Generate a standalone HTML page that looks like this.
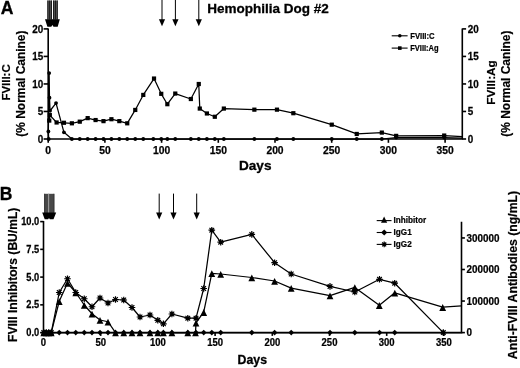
<!DOCTYPE html>
<html lang="en"><head><meta charset="utf-8"><title>Hemophilia Dog #2</title>
<style>html,body{margin:0;padding:0;background:#fff}svg{display:block;filter:blur(0.3px)}</style></head>
<body>
<svg width="520" height="368" viewBox="0 0 520 368" font-family="Liberation Sans, Arial, Helvetica, sans-serif" font-weight="bold" fill="#000">
<rect width="520" height="368" fill="#fff"/>
<g stroke="#000" stroke-width="1.6" fill="none">
<path d="M48.2 28.4V139H462.3V28.4"/>
<path d="M43.6 139H48.2"/>
<path d="M462.3 139H466.1"/>
<path d="M43.6 111.47H48.2"/>
<path d="M462.3 111.47H466.1"/>
<path d="M43.6 83.95H48.2"/>
<path d="M462.3 83.95H466.1"/>
<path d="M43.6 56.42H48.2"/>
<path d="M462.3 56.42H466.1"/>
<path d="M43.6 28.9H48.2"/>
<path d="M462.3 28.9H466.1"/>
<path d="M48.2 139V142.8"/>
<path d="M104.9 139V142.8"/>
<path d="M161.6 139V142.8"/>
<path d="M218.3 139V142.8"/>
<path d="M275 139V142.8"/>
<path d="M331.7 139V142.8"/>
<path d="M388.4 139V142.8"/>
<path d="M445.1 139V142.8"/>
</g>
<g stroke="#000" stroke-width="0.25">
<text transform="translate(43.2 142.7) scale(0.96 1)" font-size="10.3" text-anchor="end">0</text>
<text transform="translate(467.8 142.7) scale(0.96 1)" font-size="10.3" text-anchor="start">0</text>
<text transform="translate(43.2 115.17) scale(0.96 1)" font-size="10.3" text-anchor="end">5</text>
<text transform="translate(467.8 115.17) scale(0.96 1)" font-size="10.3" text-anchor="start">5</text>
<text transform="translate(43.2 87.65) scale(0.96 1)" font-size="10.3" text-anchor="end">10</text>
<text transform="translate(467.8 87.65) scale(0.96 1)" font-size="10.3" text-anchor="start">10</text>
<text transform="translate(43.2 60.12) scale(0.96 1)" font-size="10.3" text-anchor="end">15</text>
<text transform="translate(467.8 60.12) scale(0.96 1)" font-size="10.3" text-anchor="start">15</text>
<text transform="translate(43.2 32.6) scale(0.96 1)" font-size="10.3" text-anchor="end">20</text>
<text transform="translate(467.8 32.6) scale(0.96 1)" font-size="10.3" text-anchor="start">20</text>
<text transform="translate(48.2 153.9)" font-size="10.3" text-anchor="middle">0</text>
<text transform="translate(104.9 153.9)" font-size="10.3" text-anchor="middle">50</text>
<text transform="translate(161.6 153.9)" font-size="10.3" text-anchor="middle">100</text>
<text transform="translate(218.3 153.9)" font-size="10.3" text-anchor="middle">150</text>
<text transform="translate(275 153.9)" font-size="10.3" text-anchor="middle">200</text>
<text transform="translate(331.7 153.9)" font-size="10.3" text-anchor="middle">250</text>
<text transform="translate(388.4 153.9)" font-size="10.3" text-anchor="middle">300</text>
<text transform="translate(445.1 153.9)" font-size="10.3" text-anchor="middle">350</text>
</g>
<polyline fill="none" stroke="#000" stroke-width="1.25" stroke-linejoin="round" points="49.26,120.58 49.83,115.12 56.61,122.49 63.95,122.77 71.86,123.31 79.77,121.67 87.68,118.13 95.59,120.04 103.5,121.13 111.41,119.22 119.33,121.13 127.23,123.31 135.26,109.94 143.28,94.92 154.02,78.54 161.25,93.83 167.35,104.2 175.26,93.56 190.85,99.02 198.76,84 199.78,108.57 206.9,113.48 214.81,116.76 223.85,108.57 254.36,109.66 276.96,109.66 293.34,113.21 331.76,124.68 356.74,133.96 381.82,132.59 396.17,135.87 444.2,135.54 462.3,136.53"/>
<polyline fill="none" stroke="#000" stroke-width="1.25" stroke-linejoin="round" points="48.7,139 48.36,131.5 49.15,73.08 49.49,97.65 50.06,110.75 56.04,103.11 63.95,132.32 71.86,139 79.77,139 87.68,139 95.59,139 103.5,139 111.41,139 119.33,139 127.23,139 135.26,139 143.28,139 153.34,139 161.25,139 167.35,139 175.26,139 190.85,139 198.76,139 206.9,139 214.81,139 223.85,139 254.36,139 276.96,139 293.34,139 331.76,139 356.74,139 381.82,139 396.17,137.51 444.2,137.51 462.3,138.05"/>
<rect x="47.16" y="118.48" width="4.2" height="4.2"/>
<rect x="47.73" y="113.02" width="4.2" height="4.2"/>
<rect x="54.51" y="120.39" width="4.2" height="4.2"/>
<rect x="61.85" y="120.67" width="4.2" height="4.2"/>
<rect x="69.77" y="121.21" width="4.2" height="4.2"/>
<rect x="77.67" y="119.57" width="4.2" height="4.2"/>
<rect x="85.58" y="116.03" width="4.2" height="4.2"/>
<rect x="93.49" y="117.94" width="4.2" height="4.2"/>
<rect x="101.4" y="119.03" width="4.2" height="4.2"/>
<rect x="109.31" y="117.12" width="4.2" height="4.2"/>
<rect x="117.23" y="119.03" width="4.2" height="4.2"/>
<rect x="125.14" y="121.21" width="4.2" height="4.2"/>
<rect x="133.16" y="107.84" width="4.2" height="4.2"/>
<rect x="141.18" y="92.82" width="4.2" height="4.2"/>
<rect x="151.92" y="76.44" width="4.2" height="4.2"/>
<rect x="159.15" y="91.73" width="4.2" height="4.2"/>
<rect x="165.25" y="102.1" width="4.2" height="4.2"/>
<rect x="173.16" y="91.46" width="4.2" height="4.2"/>
<rect x="188.75" y="96.92" width="4.2" height="4.2"/>
<rect x="196.66" y="81.9" width="4.2" height="4.2"/>
<rect x="197.68" y="106.47" width="4.2" height="4.2"/>
<rect x="204.8" y="111.38" width="4.2" height="4.2"/>
<rect x="212.71" y="114.66" width="4.2" height="4.2"/>
<rect x="221.75" y="106.47" width="4.2" height="4.2"/>
<rect x="252.26" y="107.56" width="4.2" height="4.2"/>
<rect x="274.86" y="107.56" width="4.2" height="4.2"/>
<rect x="291.24" y="111.11" width="4.2" height="4.2"/>
<rect x="329.66" y="122.58" width="4.2" height="4.2"/>
<rect x="354.64" y="131.86" width="4.2" height="4.2"/>
<rect x="379.72" y="130.49" width="4.2" height="4.2"/>
<rect x="394.07" y="133.77" width="4.2" height="4.2"/>
<rect x="442.1" y="133.44" width="4.2" height="4.2"/>
<circle cx="48.7" cy="139" r="1.9"/>
<circle cx="48.36" cy="131.5" r="1.9"/>
<circle cx="49.15" cy="73.08" r="1.9"/>
<circle cx="49.49" cy="97.65" r="1.9"/>
<circle cx="50.06" cy="110.75" r="1.9"/>
<circle cx="56.04" cy="103.11" r="1.9"/>
<circle cx="63.95" cy="132.32" r="1.9"/>
<circle cx="71.86" cy="139" r="1.9"/>
<circle cx="79.77" cy="139" r="1.9"/>
<circle cx="87.68" cy="139" r="1.9"/>
<circle cx="95.59" cy="139" r="1.9"/>
<circle cx="103.5" cy="139" r="1.9"/>
<circle cx="111.41" cy="139" r="1.9"/>
<circle cx="119.33" cy="139" r="1.9"/>
<circle cx="127.23" cy="139" r="1.9"/>
<circle cx="135.26" cy="139" r="1.9"/>
<circle cx="143.28" cy="139" r="1.9"/>
<circle cx="153.34" cy="139" r="1.9"/>
<circle cx="161.25" cy="139" r="1.9"/>
<circle cx="167.35" cy="139" r="1.9"/>
<circle cx="175.26" cy="139" r="1.9"/>
<circle cx="190.85" cy="139" r="1.9"/>
<circle cx="198.76" cy="139" r="1.9"/>
<circle cx="206.9" cy="139" r="1.9"/>
<circle cx="214.81" cy="139" r="1.9"/>
<circle cx="223.85" cy="139" r="1.9"/>
<circle cx="254.36" cy="139" r="1.9"/>
<circle cx="276.96" cy="139" r="1.9"/>
<circle cx="293.34" cy="139" r="1.9"/>
<circle cx="331.76" cy="139" r="1.9"/>
<circle cx="356.74" cy="139" r="1.9"/>
<circle cx="381.82" cy="139" r="1.9"/>
<circle cx="396.17" cy="137.51" r="1.9"/>
<circle cx="444.2" cy="137.51" r="1.9"/>
<rect x="47.3" y="0.5" width="4.7" height="19" fill="#6a6a6a"/><rect x="53" y="0.5" width="4.9" height="19" fill="#6a6a6a"/>
<path d="M47.9 0.5V19.5M49.65 0.5V19.5M51.4 0.5V19.5M53.6 0.5V19.5M55.4 0.5V19.5M57.2 0.5V19.5" stroke="#1a1a1a" stroke-width="1.1" fill="none"/>
<path d="M45 19.3H59.8L57.7 26.8H53.5L52.4 25L51.3 26.8H47.4Z"/>
<path d="M162 0V20.2" stroke="#000" stroke-width="1" fill="none"/><path d="M158.9 19.2L165.1 19.2L162 26.2Z"/>
<path d="M175.4 0V20.2" stroke="#000" stroke-width="1" fill="none"/><path d="M172.3 19.2L178.5 19.2L175.4 26.2Z"/>
<path d="M198.8 0V20.2" stroke="#000" stroke-width="1" fill="none"/><path d="M195.7 19.2L201.9 19.2L198.8 26.2Z"/>
<g stroke="#000" stroke-width="0.3">
<text transform="translate(207.2 12.9)" font-size="13.5" text-anchor="start">Hemophilia Dog #2</text>
<text transform="translate(0.8 13.6)" font-size="17.6" text-anchor="start">A</text>
<text transform="translate(255.2 170.3) scale(1.03 1)" font-size="13.2" text-anchor="middle">Days</text>
</g>
<g stroke="#000" stroke-width="0.2">
<text transform="translate(10.3 82.4) rotate(-90)" font-size="11.4" text-anchor="middle">FVIII:C</text>
<text transform="translate(25 83.6) rotate(-90)" font-size="11.95" text-anchor="middle">(% Normal Canine)</text>
<text transform="translate(495 82.5) rotate(-90)" font-size="11.8" text-anchor="middle">FVIII:Ag</text>
<text transform="translate(510.1 83.6) rotate(-90)" font-size="11.95" text-anchor="middle">(% Normal Canine)</text>
</g>
<g stroke="#000" stroke-width="0.2">
<path d="M391.7 35.8H407.6" stroke="#000" stroke-width="1.1" fill="none"/>
<text transform="translate(410.2 38.8) scale(0.91 1)" font-size="8.5" text-anchor="start">FVIII:C</text>
<path d="M391.7 48.1H407.6" stroke="#000" stroke-width="1.1" fill="none"/>
<text transform="translate(410.2 51.3) scale(0.885 1)" font-size="8.5" text-anchor="start">FVIII:Ag</text>
</g>
<circle cx="399.8" cy="35.8" r="1.8"/>
<rect x="398" y="46.3" width="3.6" height="3.6"/>
<g stroke="#000" stroke-width="1.6" fill="none">
<path d="M43.5 221.1V332.6H461.5V221.7"/>
<path d="M40.2 332.6H43.5"/>
<path d="M40.2 304.85H43.5"/>
<path d="M40.2 277.1H43.5"/>
<path d="M40.2 249.35H43.5"/>
<path d="M40.2 221.6H43.5"/>
<path d="M461.5 332.6H464.9"/>
<path d="M461.5 301.05H464.9"/>
<path d="M461.5 269.5H464.9"/>
<path d="M461.5 237.95H464.9"/>
<path d="M43.5 332.6V335.9"/>
<path d="M100.7 332.6V335.9"/>
<path d="M157.9 332.6V335.9"/>
<path d="M215.1 332.6V335.9"/>
<path d="M272.3 332.6V335.9"/>
<path d="M329.5 332.6V335.9"/>
<path d="M386.7 332.6V335.9"/>
<path d="M443.9 332.6V335.9"/>
</g>
<g stroke="#000" stroke-width="0.25">
<text transform="translate(39.2 336.2) scale(0.92 1)" font-size="10.1" text-anchor="end">0.0</text>
<text transform="translate(39.2 308.45) scale(0.92 1)" font-size="10.1" text-anchor="end">2.5</text>
<text transform="translate(39.2 280.7) scale(0.92 1)" font-size="10.1" text-anchor="end">5.0</text>
<text transform="translate(39.2 252.95) scale(0.92 1)" font-size="10.1" text-anchor="end">7.5</text>
<text transform="translate(39.2 225.2) scale(0.92 1)" font-size="10.1" text-anchor="end">10.0</text>
<text transform="translate(466.5 336.35) scale(0.94 1)" font-size="10.5" text-anchor="start">0</text>
<text transform="translate(466.5 304.8) scale(0.94 1)" font-size="10.5" text-anchor="start">100000</text>
<text transform="translate(466.5 273.25) scale(0.94 1)" font-size="10.5" text-anchor="start">200000</text>
<text transform="translate(466.5 241.7) scale(0.94 1)" font-size="10.5" text-anchor="start">300000</text>
<text transform="translate(43.5 346.1) scale(0.94 1)" font-size="10.1" text-anchor="middle">0</text>
<text transform="translate(100.7 346.1) scale(0.94 1)" font-size="10.1" text-anchor="middle">50</text>
<text transform="translate(157.9 346.1) scale(0.94 1)" font-size="10.1" text-anchor="middle">100</text>
<text transform="translate(215.1 346.1) scale(0.94 1)" font-size="10.1" text-anchor="middle">150</text>
<text transform="translate(272.3 346.1) scale(0.94 1)" font-size="10.1" text-anchor="middle">200</text>
<text transform="translate(329.5 346.1) scale(0.94 1)" font-size="10.1" text-anchor="middle">250</text>
<text transform="translate(386.7 346.1) scale(0.94 1)" font-size="10.1" text-anchor="middle">300</text>
<text transform="translate(443.9 346.1) scale(0.94 1)" font-size="10.1" text-anchor="middle">350</text>
</g>
<polyline fill="none" stroke="#000" stroke-width="1.25" stroke-linejoin="round" points="43.75,332.6 46.25,332.6 48.75,332.6 51.25,332.6 59.25,292.5 67.5,278.75 75.75,292.5 84.25,298.75 92,306.75 100,298 108,303 115.5,299.5 123.75,300 132,307.5 140,317 150,315 157.8,320.3 163.4,323.8 171.9,314 187.8,318.2 196,318.2 203.7,288.5 211.8,230.2 220.7,242.2 251.8,234.4 274.6,262.7 291.2,274 330,286.4 354.8,292 379.5,279.3 394.7,283.2 443.3,332.6"/>
<polyline fill="none" stroke="#000" stroke-width="1.25" stroke-linejoin="round" points="43.75,332.6 46.25,332.6 48.75,332.6 51.25,332.6 59.25,301.25 67.5,283 75.75,292.5 84.25,305 92,313.75 100,320 108,321.75 115.5,332.6 123.75,332.6 132,332.6 140,332.6 150,332.6 157.8,332.6 163.4,332.6 171.9,332.6 187.8,332.6 195.5,332.6 196,322.8 203.7,312.2 211.8,273.3 220.7,274 251.8,277.5 274.6,281 291.2,288.1 330,295.6 354.8,287.4 379.3,305.2 394.8,292.8 442.7,307.2 461.5,305.9"/>
<polyline fill="none" stroke="#000" stroke-width="1.25" stroke-linejoin="round" points="43.75,332.6 46.25,332.6 48.75,332.6 51.25,332.6 59.25,332.6 67.5,332.6 75.75,332.6 84.25,332.6 92,332.6 100,332.6 108,332.6 115.5,332.6 123.75,332.6 132,332.6 140,332.6 150,332.6 157.8,332.6 163.4,332.6 171.9,332.6 187.8,332.6 196,332.6 203.7,332.6 211.8,332.6 220.7,332.6 251.8,332.6 274.6,332.6 291.2,332.6 330,332.6 354.8,332.6 379.5,332.6 394.7,332.6 443.3,332.6 461.5,332.6"/>
<path d="M43.75 329.8L46.55 332.6L43.75 335.4L40.95 332.6Z"/>
<path d="M46.25 329.8L49.05 332.6L46.25 335.4L43.45 332.6Z"/>
<path d="M48.75 329.8L51.55 332.6L48.75 335.4L45.95 332.6Z"/>
<path d="M51.25 329.8L54.05 332.6L51.25 335.4L48.45 332.6Z"/>
<path d="M59.25 329.8L62.05 332.6L59.25 335.4L56.45 332.6Z"/>
<path d="M67.5 329.8L70.3 332.6L67.5 335.4L64.7 332.6Z"/>
<path d="M75.75 329.8L78.55 332.6L75.75 335.4L72.95 332.6Z"/>
<path d="M84.25 329.8L87.05 332.6L84.25 335.4L81.45 332.6Z"/>
<path d="M92 329.8L94.8 332.6L92 335.4L89.2 332.6Z"/>
<path d="M100 329.8L102.8 332.6L100 335.4L97.2 332.6Z"/>
<path d="M108 329.8L110.8 332.6L108 335.4L105.2 332.6Z"/>
<path d="M115.5 329.8L118.3 332.6L115.5 335.4L112.7 332.6Z"/>
<path d="M123.75 329.8L126.55 332.6L123.75 335.4L120.95 332.6Z"/>
<path d="M132 329.8L134.8 332.6L132 335.4L129.2 332.6Z"/>
<path d="M140 329.8L142.8 332.6L140 335.4L137.2 332.6Z"/>
<path d="M150 329.8L152.8 332.6L150 335.4L147.2 332.6Z"/>
<path d="M157.8 329.8L160.6 332.6L157.8 335.4L155 332.6Z"/>
<path d="M163.4 329.8L166.2 332.6L163.4 335.4L160.6 332.6Z"/>
<path d="M171.9 329.8L174.7 332.6L171.9 335.4L169.1 332.6Z"/>
<path d="M187.8 329.8L190.6 332.6L187.8 335.4L185 332.6Z"/>
<path d="M196 329.8L198.8 332.6L196 335.4L193.2 332.6Z"/>
<path d="M203.7 329.8L206.5 332.6L203.7 335.4L200.9 332.6Z"/>
<path d="M211.8 329.8L214.6 332.6L211.8 335.4L209 332.6Z"/>
<path d="M220.7 329.8L223.5 332.6L220.7 335.4L217.9 332.6Z"/>
<path d="M251.8 329.8L254.6 332.6L251.8 335.4L249 332.6Z"/>
<path d="M274.6 329.8L277.4 332.6L274.6 335.4L271.8 332.6Z"/>
<path d="M291.2 329.8L294 332.6L291.2 335.4L288.4 332.6Z"/>
<path d="M330 329.8L332.8 332.6L330 335.4L327.2 332.6Z"/>
<path d="M354.8 329.8L357.6 332.6L354.8 335.4L352 332.6Z"/>
<path d="M379.5 329.8L382.3 332.6L379.5 335.4L376.7 332.6Z"/>
<path d="M394.7 329.8L397.5 332.6L394.7 335.4L391.9 332.6Z"/>
<path d="M443.3 329.8L446.1 332.6L443.3 335.4L440.5 332.6Z"/>
<path d="M43.75 329.5L47.15 336.3L40.35 336.3Z"/>
<path d="M46.25 329.5L49.65 336.3L42.85 336.3Z"/>
<path d="M48.75 329.5L52.15 336.3L45.35 336.3Z"/>
<path d="M51.25 329.5L54.65 336.3L47.85 336.3Z"/>
<path d="M59.25 298.15L62.65 304.95L55.85 304.95Z"/>
<path d="M67.5 279.9L70.9 286.7L64.1 286.7Z"/>
<path d="M75.75 289.4L79.15 296.2L72.35 296.2Z"/>
<path d="M84.25 301.9L87.65 308.7L80.85 308.7Z"/>
<path d="M92 310.65L95.4 317.45L88.6 317.45Z"/>
<path d="M100 316.9L103.4 323.7L96.6 323.7Z"/>
<path d="M108 318.65L111.4 325.45L104.6 325.45Z"/>
<path d="M115.5 329.5L118.9 336.3L112.1 336.3Z"/>
<path d="M123.75 329.5L127.15 336.3L120.35 336.3Z"/>
<path d="M132 329.5L135.4 336.3L128.6 336.3Z"/>
<path d="M140 329.5L143.4 336.3L136.6 336.3Z"/>
<path d="M150 329.5L153.4 336.3L146.6 336.3Z"/>
<path d="M157.8 329.5L161.2 336.3L154.4 336.3Z"/>
<path d="M163.4 329.5L166.8 336.3L160 336.3Z"/>
<path d="M171.9 329.5L175.3 336.3L168.5 336.3Z"/>
<path d="M187.8 329.5L191.2 336.3L184.4 336.3Z"/>
<path d="M195.5 329.5L198.9 336.3L192.1 336.3Z"/>
<path d="M196 319.7L199.4 326.5L192.6 326.5Z"/>
<path d="M203.7 309.1L207.1 315.9L200.3 315.9Z"/>
<path d="M211.8 270.2L215.2 277L208.4 277Z"/>
<path d="M220.7 270.9L224.1 277.7L217.3 277.7Z"/>
<path d="M251.8 274.4L255.2 281.2L248.4 281.2Z"/>
<path d="M274.6 277.9L278 284.7L271.2 284.7Z"/>
<path d="M291.2 285L294.6 291.8L287.8 291.8Z"/>
<path d="M330 292.5L333.4 299.3L326.6 299.3Z"/>
<path d="M354.8 284.3L358.2 291.1L351.4 291.1Z"/>
<path d="M379.3 302.1L382.7 308.9L375.9 308.9Z"/>
<path d="M394.8 289.7L398.2 296.5L391.4 296.5Z"/>
<path d="M442.7 304.1L446.1 310.9L439.3 310.9Z"/>
<path d="M40.45 332.6L47.05 332.6M41.42 330.27L46.08 334.93M43.75 329.3L43.75 335.9M46.08 330.27L41.42 334.93" stroke="#000" stroke-width="1.2" fill="none"/><circle cx="43.75" cy="332.6" r="1.7"/>
<path d="M42.95 332.6L49.55 332.6M43.92 330.27L48.58 334.93M46.25 329.3L46.25 335.9M48.58 330.27L43.92 334.93" stroke="#000" stroke-width="1.2" fill="none"/><circle cx="46.25" cy="332.6" r="1.7"/>
<path d="M45.45 332.6L52.05 332.6M46.42 330.27L51.08 334.93M48.75 329.3L48.75 335.9M51.08 330.27L46.42 334.93" stroke="#000" stroke-width="1.2" fill="none"/><circle cx="48.75" cy="332.6" r="1.7"/>
<path d="M47.95 332.6L54.55 332.6M48.92 330.27L53.58 334.93M51.25 329.3L51.25 335.9M53.58 330.27L48.92 334.93" stroke="#000" stroke-width="1.2" fill="none"/><circle cx="51.25" cy="332.6" r="1.7"/>
<path d="M55.95 292.5L62.55 292.5M56.92 290.17L61.58 294.83M59.25 289.2L59.25 295.8M61.58 290.17L56.92 294.83" stroke="#000" stroke-width="1.2" fill="none"/><circle cx="59.25" cy="292.5" r="1.7"/>
<path d="M64.2 278.75L70.8 278.75M65.17 276.42L69.83 281.08M67.5 275.45L67.5 282.05M69.83 276.42L65.17 281.08" stroke="#000" stroke-width="1.2" fill="none"/><circle cx="67.5" cy="278.75" r="1.7"/>
<path d="M72.45 292.5L79.05 292.5M73.42 290.17L78.08 294.83M75.75 289.2L75.75 295.8M78.08 290.17L73.42 294.83" stroke="#000" stroke-width="1.2" fill="none"/><circle cx="75.75" cy="292.5" r="1.7"/>
<path d="M80.95 298.75L87.55 298.75M81.92 296.42L86.58 301.08M84.25 295.45L84.25 302.05M86.58 296.42L81.92 301.08" stroke="#000" stroke-width="1.2" fill="none"/><circle cx="84.25" cy="298.75" r="1.7"/>
<path d="M88.7 306.75L95.3 306.75M89.67 304.42L94.33 309.08M92 303.45L92 310.05M94.33 304.42L89.67 309.08" stroke="#000" stroke-width="1.2" fill="none"/><circle cx="92" cy="306.75" r="1.7"/>
<path d="M96.7 298L103.3 298M97.67 295.67L102.33 300.33M100 294.7L100 301.3M102.33 295.67L97.67 300.33" stroke="#000" stroke-width="1.2" fill="none"/><circle cx="100" cy="298" r="1.7"/>
<path d="M104.7 303L111.3 303M105.67 300.67L110.33 305.33M108 299.7L108 306.3M110.33 300.67L105.67 305.33" stroke="#000" stroke-width="1.2" fill="none"/><circle cx="108" cy="303" r="1.7"/>
<path d="M112.2 299.5L118.8 299.5M113.17 297.17L117.83 301.83M115.5 296.2L115.5 302.8M117.83 297.17L113.17 301.83" stroke="#000" stroke-width="1.2" fill="none"/><circle cx="115.5" cy="299.5" r="1.7"/>
<path d="M120.45 300L127.05 300M121.42 297.67L126.08 302.33M123.75 296.7L123.75 303.3M126.08 297.67L121.42 302.33" stroke="#000" stroke-width="1.2" fill="none"/><circle cx="123.75" cy="300" r="1.7"/>
<path d="M128.7 307.5L135.3 307.5M129.67 305.17L134.33 309.83M132 304.2L132 310.8M134.33 305.17L129.67 309.83" stroke="#000" stroke-width="1.2" fill="none"/><circle cx="132" cy="307.5" r="1.7"/>
<path d="M136.7 317L143.3 317M137.67 314.67L142.33 319.33M140 313.7L140 320.3M142.33 314.67L137.67 319.33" stroke="#000" stroke-width="1.2" fill="none"/><circle cx="140" cy="317" r="1.7"/>
<path d="M146.7 315L153.3 315M147.67 312.67L152.33 317.33M150 311.7L150 318.3M152.33 312.67L147.67 317.33" stroke="#000" stroke-width="1.2" fill="none"/><circle cx="150" cy="315" r="1.7"/>
<path d="M154.5 320.3L161.1 320.3M155.47 317.97L160.13 322.63M157.8 317L157.8 323.6M160.13 317.97L155.47 322.63" stroke="#000" stroke-width="1.2" fill="none"/><circle cx="157.8" cy="320.3" r="1.7"/>
<path d="M160.1 323.8L166.7 323.8M161.07 321.47L165.73 326.13M163.4 320.5L163.4 327.1M165.73 321.47L161.07 326.13" stroke="#000" stroke-width="1.2" fill="none"/><circle cx="163.4" cy="323.8" r="1.7"/>
<path d="M168.6 314L175.2 314M169.57 311.67L174.23 316.33M171.9 310.7L171.9 317.3M174.23 311.67L169.57 316.33" stroke="#000" stroke-width="1.2" fill="none"/><circle cx="171.9" cy="314" r="1.7"/>
<path d="M184.5 318.2L191.1 318.2M185.47 315.87L190.13 320.53M187.8 314.9L187.8 321.5M190.13 315.87L185.47 320.53" stroke="#000" stroke-width="1.2" fill="none"/><circle cx="187.8" cy="318.2" r="1.7"/>
<path d="M192.7 318.2L199.3 318.2M193.67 315.87L198.33 320.53M196 314.9L196 321.5M198.33 315.87L193.67 320.53" stroke="#000" stroke-width="1.2" fill="none"/><circle cx="196" cy="318.2" r="1.7"/>
<path d="M200.4 288.5L207 288.5M201.37 286.17L206.03 290.83M203.7 285.2L203.7 291.8M206.03 286.17L201.37 290.83" stroke="#000" stroke-width="1.2" fill="none"/><circle cx="203.7" cy="288.5" r="1.7"/>
<path d="M208.5 230.2L215.1 230.2M209.47 227.87L214.13 232.53M211.8 226.9L211.8 233.5M214.13 227.87L209.47 232.53" stroke="#000" stroke-width="1.2" fill="none"/><circle cx="211.8" cy="230.2" r="1.7"/>
<path d="M217.4 242.2L224 242.2M218.37 239.87L223.03 244.53M220.7 238.9L220.7 245.5M223.03 239.87L218.37 244.53" stroke="#000" stroke-width="1.2" fill="none"/><circle cx="220.7" cy="242.2" r="1.7"/>
<path d="M248.5 234.4L255.1 234.4M249.47 232.07L254.13 236.73M251.8 231.1L251.8 237.7M254.13 232.07L249.47 236.73" stroke="#000" stroke-width="1.2" fill="none"/><circle cx="251.8" cy="234.4" r="1.7"/>
<path d="M271.3 262.7L277.9 262.7M272.27 260.37L276.93 265.03M274.6 259.4L274.6 266M276.93 260.37L272.27 265.03" stroke="#000" stroke-width="1.2" fill="none"/><circle cx="274.6" cy="262.7" r="1.7"/>
<path d="M287.9 274L294.5 274M288.87 271.67L293.53 276.33M291.2 270.7L291.2 277.3M293.53 271.67L288.87 276.33" stroke="#000" stroke-width="1.2" fill="none"/><circle cx="291.2" cy="274" r="1.7"/>
<path d="M326.7 286.4L333.3 286.4M327.67 284.07L332.33 288.73M330 283.1L330 289.7M332.33 284.07L327.67 288.73" stroke="#000" stroke-width="1.2" fill="none"/><circle cx="330" cy="286.4" r="1.7"/>
<path d="M351.5 292L358.1 292M352.47 289.67L357.13 294.33M354.8 288.7L354.8 295.3M357.13 289.67L352.47 294.33" stroke="#000" stroke-width="1.2" fill="none"/><circle cx="354.8" cy="292" r="1.7"/>
<path d="M376.2 279.3L382.8 279.3M377.17 276.97L381.83 281.63M379.5 276L379.5 282.6M381.83 276.97L377.17 281.63" stroke="#000" stroke-width="1.2" fill="none"/><circle cx="379.5" cy="279.3" r="1.7"/>
<path d="M391.4 283.2L398 283.2M392.37 280.87L397.03 285.53M394.7 279.9L394.7 286.5M397.03 280.87L392.37 285.53" stroke="#000" stroke-width="1.2" fill="none"/><circle cx="394.7" cy="283.2" r="1.7"/>
<path d="M440 332.6L446.6 332.6M440.97 330.27L445.63 334.93M443.3 329.3L443.3 335.9M445.63 330.27L440.97 334.93" stroke="#000" stroke-width="1.2" fill="none"/><circle cx="443.3" cy="332.6" r="1.7"/>
<rect x="44.2" y="193.8" width="10.1" height="19.5" fill="#484848"/>
<path d="M48.6 193.8V213" stroke="#9a9a9a" stroke-width="1.1" fill="none"/>
<path d="M44.6 193.8V213M53.9 193.8V213" stroke="#333" stroke-width="0.9" fill="none"/>
<path d="M42.2 212.6H56.2L53.5 219.3H49.8L49 218L48.2 219.3H44.7Z"/>
<path d="M159.2 193.6V213.6" stroke="#000" stroke-width="1" fill="none"/><path d="M156.1 212.6L162.3 212.6L159.2 219.6Z"/>
<path d="M173.5 193.6V213.6" stroke="#000" stroke-width="1" fill="none"/><path d="M170.4 212.6L176.6 212.6L173.5 219.6Z"/>
<path d="M196.7 193.6V213.6" stroke="#000" stroke-width="1" fill="none"/><path d="M193.6 212.6L199.8 212.6L196.7 219.6Z"/>
<g stroke="#000" stroke-width="0.3">
<text transform="translate(-0.2 199.7)" font-size="17.5" text-anchor="start">B</text>
<text transform="translate(252.3 363.7) scale(0.97 1)" font-size="12.7" text-anchor="middle">Days</text>
</g>
<g stroke="#000" stroke-width="0.2">
<text transform="translate(17 274.8) rotate(-90)" font-size="12.1" text-anchor="middle">FVIII Inhibitors (BU/mL)</text>
<text transform="translate(517 275) rotate(-90)" font-size="12.25" text-anchor="middle">Anti-FVIII Antibodies (ng/mL)</text>
</g>
<g stroke="#000" stroke-width="0.2">
<path d="M376.7 220.6H391.5" stroke="#000" stroke-width="1.1" fill="none"/>
<text transform="translate(393.6 222.5) scale(0.96 1)" font-size="8.5" text-anchor="start">Inhibitor</text>
<path d="M376.7 232.5H391.5" stroke="#000" stroke-width="1.1" fill="none"/>
<text transform="translate(393.6 234.9) scale(0.96 1)" font-size="8.5" text-anchor="start">IgG1</text>
<path d="M376.7 244.4H391.5" stroke="#000" stroke-width="1.1" fill="none"/>
<text transform="translate(393.6 247) scale(0.96 1)" font-size="8.5" text-anchor="start">IgG2</text>
</g>
<path d="M384.1 216.5L387.2 222.7L381 222.7Z"/>
<path d="M384.2 229.4L387.3 232.5L384.2 235.6L381.1 232.5Z"/>
<path d="M381.4 244.4L387 244.4M382.22 242.42L386.18 246.38M384.2 241.6L384.2 247.2M386.18 242.42L382.22 246.38" stroke="#000" stroke-width="1.2" fill="none"/><circle cx="384.2" cy="244.4" r="1.7"/>
</svg>
</body></html>
